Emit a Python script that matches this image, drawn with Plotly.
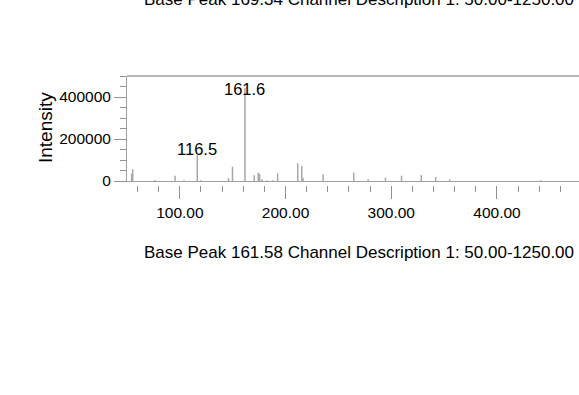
import plotly.graph_objects as go

# ---- data ----
mz = [54.4, 55.4, 76.5, 95.5, 104.0, 116.5, 119.8, 146.0, 149.8, 161.6,
      170.4, 174.2, 175.4, 177.6, 182.4, 188.0, 192.5, 211.5, 215.3, 216.5,
      235.5, 264.5, 278.1, 294.5, 309.7, 328.4, 342.0, 355.2, 441.5]
intensity = [35000, 56000, 5000, 25000, 3000, 124000, 3000, 13000, 68000, 443000,
             27000, 40000, 34000, 8000, 3000, 3000, 37000, 84000, 71000, 16000,
             32000, 40000, 8000, 16000, 25000, 28000, 19000, 8000, 4000]
labelled_peaks = [116.5, 161.6]
x_ticks = [100, 200, 300, 400, 500]
y_ticks = [0, 200000, 400000]
x_range = [50, 477.6]
y_range = [0, 500000]
caption_prev = "Base Peak 169.34 Channel Description 1: 50.00-1250.00"
caption = "Base Peak 161.58 Channel Description 1: 50.00-1250.00"
y_title = "Intensity"

# ---- layout geometry ----
W, H = 579, 395
ML, MR, MT, MB = 127, 0, 76, 195
plot_h = H - MT - MB
plot_w = W - ML - MR
zero_px = 181
dom_bottom = ((MT + plot_h) - zero_px) / plot_h
tick_axis_pos = ((MT + plot_h) - 185) / plot_h

def py(px):
    return ((MT + plot_h) - px) / plot_h

def pxx(px):
    return (px - ML) / plot_w

FONT = "Liberation Sans, Arial, sans-serif"
GRAY = "#a0a0a0"

xs, ys = [], []
for m, v in zip(mz, intensity):
    xs += [m, m, None]
    ys += [0, v, None]

fig = go.Figure()
fig.add_trace(go.Scatter(x=xs, y=ys, mode="lines",
                         line=dict(color="#a8a8a8", width=1.5),
                         hoverinfo="skip", showlegend=False))
fig.add_trace(go.Scatter(x=x_range, y=[None, None], xaxis="x2", yaxis="y",
                         mode="lines", showlegend=False, hoverinfo="skip"))

# peak labels
for m in labelled_peaks:
    v = intensity[mz.index(m)]
    yl = min(v + 0.058 * y_range[1], 0.88 * y_range[1])
    fig.add_annotation(x=m, y=yl, xref="x", yref="y", text=f"{m:.1f}",
                       showarrow=False, yanchor="middle",
                       font=dict(family=FONT, size=16.5, color="#000"))

shown_ticks = [t for t in x_ticks if x_range[0] <= t <= x_range[1]]
hidden_ticks = [t for t in x_ticks if t > x_range[1]]
for t in hidden_ticks:
    fig.add_annotation(x=(t - x_range[0]) / (x_range[1] - x_range[0]), xref="paper",
                       y=py(208), yref="paper", text=f"{t:.2f}", showarrow=False,
                       xanchor="center", yanchor="middle",
                       font=dict(family=FONT, size=15.5, color="#000"))

fig.add_annotation(x=pxx(142), y=py(-1), xref="paper", yref="paper",
                   text=caption_prev, showarrow=False, xanchor="left", yanchor="middle",
                   font=dict(family=FONT, size=17, color="#000"))
fig.add_annotation(x=pxx(142), y=py(252), xref="paper", yref="paper",
                   text=caption, showarrow=False, xanchor="left", yanchor="middle",
                   font=dict(family=FONT, size=17, color="#000"))
fig.add_annotation(x=pxx(45), y=py(128), xref="paper", yref="paper",
                   text=y_title, showarrow=False, textangle=-90,
                   xanchor="center", yanchor="middle",
                   font=dict(family=FONT, size=19, color="#000"))

fig.add_shape(type="line", xref="paper", yref="y domain", x0=0, x1=1, y0=1, y1=1,
              line=dict(color="#b8b8b8", width=2))

fig.update_layout(
    width=W, height=H, margin=dict(l=ML, r=MR, t=MT, b=MB, pad=0),
    paper_bgcolor="white", plot_bgcolor="white", showlegend=False,
    xaxis=dict(range=x_range, showgrid=False, zeroline=False, showline=True,
               linecolor=GRAY, linewidth=1, ticks="", showticklabels=False,
               anchor="y"),
    xaxis2=dict(range=x_range, overlaying="x", anchor="free", position=tick_axis_pos,
                side="bottom", showgrid=False, zeroline=False, showline=False,
                tickmode="array", tickvals=shown_ticks, ticktext=[f"{t:.2f}" for t in shown_ticks],
                ticks="outside", ticklen=13, tickwidth=1, tickcolor="#909090",
                minor=dict(dtick=20, tick0=0, ticks="outside", ticklen=6,
                           tickcolor="#909090", tickwidth=1, showgrid=False),
                tickfont=dict(family=FONT, size=15.5, color="#000")),
    yaxis=dict(range=y_range, domain=[dom_bottom, 1], showgrid=False, zeroline=False,
               showline=True, linecolor=GRAY, linewidth=1,
               tickmode="array", tickvals=y_ticks, ticktext=[str(t) for t in y_ticks],
               ticks="outside", ticklen=12, tickwidth=1, tickcolor="#909090",
               minor=dict(dtick=50000, tick0=0, ticks="outside", ticklen=6,
                          tickcolor="#909090", tickwidth=1, showgrid=False),
               tickfont=dict(family=FONT, size=15.5, color="#000")),
)

fig.write_html("out.html")
